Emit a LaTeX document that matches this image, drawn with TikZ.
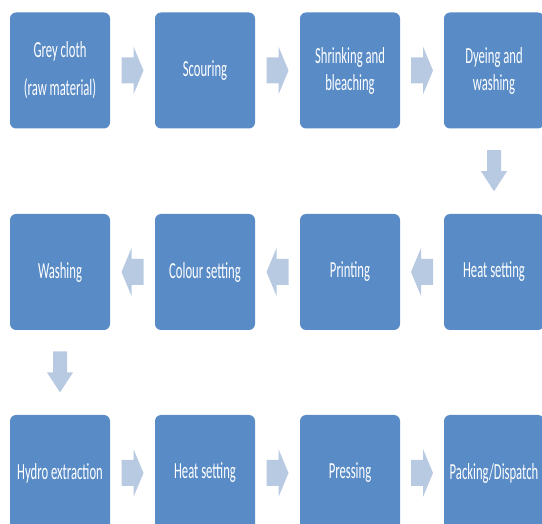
\documentclass[tikz,border=0pt]{standalone}
\usepackage{fontspec}
\setmainfont{Carlito}[FakeStretch=0.55]
\usetikzlibrary{calc}
\definecolor{boxblue}{RGB}{89,139,198}
\definecolor{arrowblue}{RGB}{184,201,226}

\begin{document}
\begin{tikzpicture}[x=1pt,y=1pt,
        stage/.style={fill=boxblue,rounded corners=6pt,minimum width=100pt,minimum height=116pt,inner sep=0pt,
                text=white,align=center,font=\fontsize{23}{27}\selectfont},
        rarrow/.pic={\fill[arrowblue] (-11,-13) -- (1,-13) -- (1,-24) -- (11,0) -- (1,24) -- (1,13) -- (-11,13) -- cycle;},
        darrow/.pic={\fill[arrowblue] (-7,21) -- (7,21) -- (7,0) -- (13,0) -- (0,-20) -- (-13,0) -- (-7,0) -- cycle;}]
        \useasboundingbox (0,0) rectangle (542,-524);
        \clip (0,0) rectangle (542,-524);
        
        \node[stage] (grey) at (60,-70.5) {Grey cloth\\[11pt](raw material)};
        \node[stage] (scour) at (205,-70.5) {Scouring};
        \node[stage] (shrink) at (350,-70.5) {Shrinking and\\bleaching};
        \node[stage] (dye) at (494,-70.5) {Dyeing and\\washing};
        
        \node[stage] (heatA) at (494,-272) {Heat setting};
        \node[stage] (print) at (350,-272) {Printing};
        \node[stage] (colour) at (205,-272) {Colour setting};
        \node[stage] (wash) at (60,-272) {Washing};
        
        \node[stage] (hydro) at (60,-473) {Hydro extraction};
        \node[stage] (heatB) at (205,-473) {Heat setting};
        \node[stage] (press) at (350,-473) {Pressing};
        \node[stage] (pack) at (494,-473) {Packing/Dispatch};
        
        \pic at ($(grey.east)!.5!(scour.west)$) {rarrow};
        \pic at ($(scour.east)!.5!(shrink.west)$) {rarrow};
        \pic at ($(shrink.east)!.5!(dye.west)$) {rarrow};
        \pic at ($(dye.south)!.5!(heatA.north)$) {darrow};
        \pic[rotate=180] at ($(heatA.west)!.5!(print.east)$) {rarrow};
        \pic[rotate=180] at ($(print.west)!.5!(colour.east)$) {rarrow};
        \pic[rotate=180] at ($(colour.west)!.5!(wash.east)$) {rarrow};
        \pic at ($(wash.south)!.5!(hydro.north)$) {darrow};
        \pic at ($(hydro.east)!.5!(heatB.west)$) {rarrow};
        \pic at ($(heatB.east)!.5!(press.west)$) {rarrow};
        \pic at ($(press.east)!.5!(pack.west)$) {rarrow};
        
\end{tikzpicture}
\end{document}
